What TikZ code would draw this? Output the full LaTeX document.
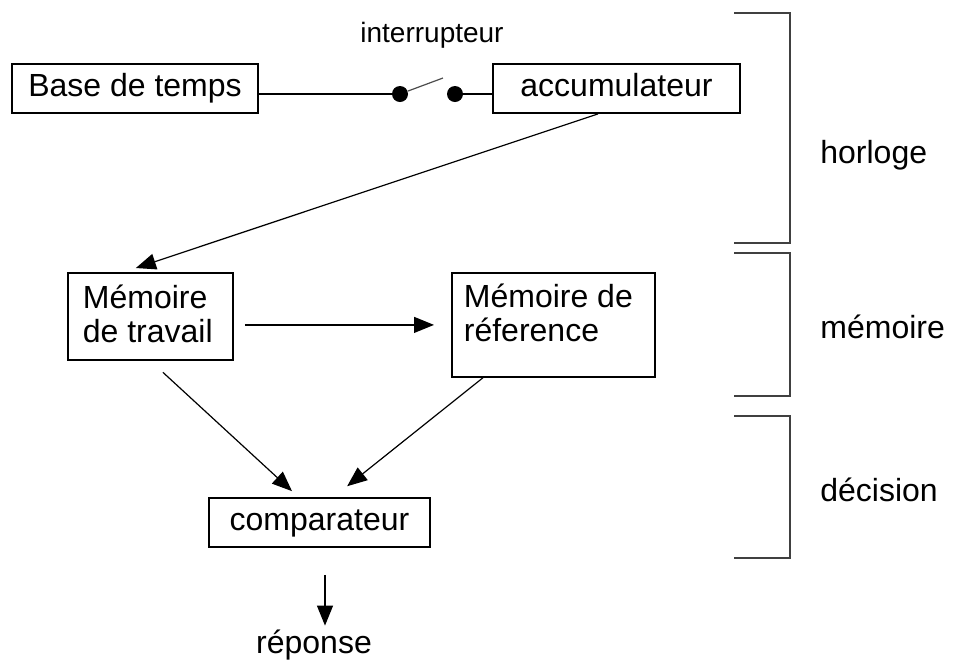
\documentclass[tikz,border=0pt]{standalone}
\usepackage{fontspec}
\setmainfont{Liberation Sans}
\usetikzlibrary{arrows.meta}
\begin{document}
\begin{tikzpicture}[x=0.5pt,y=-0.5pt,
	box/.style={draw,line width=0.9pt,inner sep=0pt,text height=11.5pt,text depth=3.4pt,font=\fontsize{16}{17}\selectfont},
	membox/.style={draw,line width=0.9pt,inner sep=0pt,font=\fontsize{16}{17}\selectfont},
	lbl/.style={inner sep=0pt,font=\fontsize{16}{17}\selectfont},
	dot/.style={circle,fill,inner sep=0pt,minimum size=8pt},
	wire/.style={line width=0.7pt},
	arrow/.style={line width=0.6pt,-{Triangle[length=10pt,width=8pt]}},
	bracket/.style={line width=1pt,black!75}]
	\useasboundingbox (0,0) rectangle (955,666);
	\node[box,minimum width=123pt,minimum height=24.5pt] (base) at (135,88.5) {Base de temps};
	\node[box,minimum width=123.5pt,minimum height=24.5pt] (accu) at (616.5,88.5) {accumulateur};
	\node[lbl,anchor=base,font=\fontsize{14}{16}\selectfont] (inter) at (432,42) {interrupteur};
	\node[dot] (d1) at (400,94) {};
	\node[dot] (d2) at (455,94) {};
	\coordinate (lev) at (443,78);
	\node[membox,anchor=north west] (mdt) at (67,272) {\parbox[c][43.5pt][t]{82.5pt}{\raggedright\leftskip=7.5pt\rule{0pt}{18pt}Mémoire\\de travail}};
	\node[membox,anchor=north west] (mdr) at (451,272) {\parbox[c][52pt][t]{101.5pt}{\raggedright\leftskip=6pt\rule{0pt}{17.5pt}Mémoire de\\réference}};
	\node[box,minimum width=110.5pt,minimum height=24.5pt] (cmp) at (319.5,522.5) {comparateur};
	\node[lbl,anchor=base,text height=11.5pt,text depth=3.4pt] (rep) at (314,653) {réponse};
	\draw[wire] (base.east |- d1) -- (d1);
	\draw[wire,black!70,line width=0.6pt] (d1) -- (lev);
	\draw[wire] (d2) -- (d2 -| accu.west);
	\draw[arrow,shorten >=6.3pt] ([xshift=-9.25pt]accu.south) -- ([xshift=-13.25pt]mdt.north);
	\draw[arrow,shorten <=5.5pt,shorten >=8.5pt] (mdt.east |- mdr.west) -- (mdr.west);
	\draw[arrow,shorten <=8.5pt,shorten >=4.4pt] (mdt.south) -- ([xshift=-10.5pt]cmp.north);
	\draw[arrow,shorten >=8.7pt] ([xshift=-35.25pt]mdr.south) -- ([xshift=7pt]cmp.north);
	\draw[arrow,shorten <=13.5pt,shorten >=2pt] ([xshift=2.75pt]cmp.south) -- ([xshift=2.75pt]cmp.south |- rep.north);
	% accolades a droite
	\coordinate (h1) at (734,13);
	\coordinate (h2) at (734,243);
	\coordinate (m1) at (734,253);
	\coordinate (m2) at (734,396);
	\coordinate (c1) at (734,416);
	\coordinate (c2) at (734,558);
	\draw[bracket] (h1) -- ++(56,0) -- ++(0,230) -- (h2);
	\draw[bracket] (m1) -- ++(56,0) -- ++(0,143) -- (m2);
	\draw[bracket] (c1) -- ++(56,0) -- ++(0,142) -- (c2);
	\node[lbl,anchor=base west] (horl) at (820,163) {horloge};
	\node[lbl,anchor=base west] (memo) at (820,338) {mémoire};
	\node[lbl,anchor=base west] (deci) at (820,501) {décision};
\end{tikzpicture}
\end{document}
